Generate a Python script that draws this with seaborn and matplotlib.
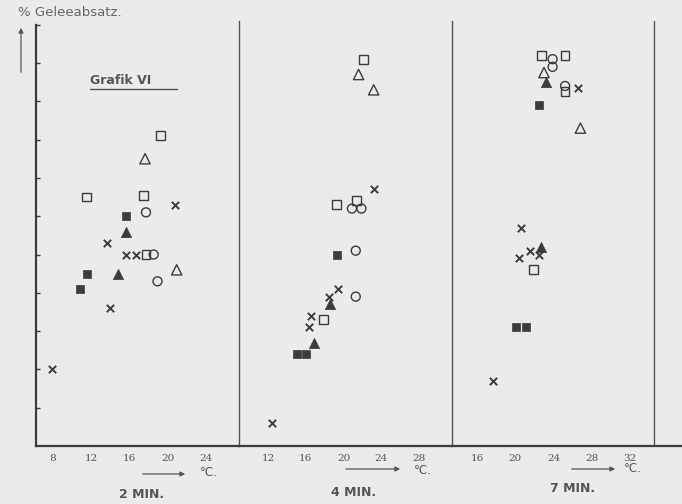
import matplotlib
matplotlib.use("Agg")
import matplotlib.pyplot as plt
import seaborn as sns
import pandas as pd

# ---------------- data ----------------
panel_titles = ["2 MIN.", "4 MIN.", "7 MIN."]
x_ticks = [[8, 12, 16, 20, 24], [12, 16, 20, 24, 28], [16, 20, 24, 28, 32]]
y_ticks = [10, 20, 30, 40, 50, 60, 70, 80, 90, 100, 110]

# panel "2 MIN."
p1_cross_t = [7.9, 13.9, 13.6, 15.6, 16.7, 20.7]
p1_cross_v = [20, 36, 53, 50, 50, 63]
p1_fsq_t = [10.8, 11.6, 15.6]
p1_fsq_v = [41, 45, 60]
p1_ftri_t = [14.8, 15.6]
p1_ftri_v = [45, 56]
p1_osq_t = [17.7, 11.5, 17.4, 19.2]
p1_osq_v = [50, 65, 65.5, 81]
p1_ocir_t = [18.5, 18.9, 17.7]
p1_ocir_v = [50, 43, 61]
p1_otri_t = [20.9, 17.6]
p1_otri_v = [46, 75]

# panel "4 MIN."
p2_cross_t = [23.2, 19.4, 18.5, 16.6, 16.4, 12.4]
p2_cross_v = [67, 41, 39, 34, 31, 6]
p2_fsq_t = [19.3, 15.1, 16.0]
p2_fsq_v = [50, 24, 24]
p2_ftri_t = [18.6, 16.9]
p2_ftri_v = [37, 27]
p2_osq_t = [22.1, 19.3, 21.4, 17.9]
p2_osq_v = [101, 63, 64, 33]
p2_ocir_t = [20.9, 21.9, 21.3, 21.3]
p2_ocir_v = [62, 62, 51, 39]
p2_otri_t = [21.6, 23.2]
p2_otri_v = [97, 93]

# panel "7 MIN."
p3_cross_t = [26.5, 20.6, 21.5, 22.5, 20.4, 17.7]
p3_cross_v = [93.5, 57, 51, 50, 49, 17]
p3_fsq_t = [22.5, 20.1, 21.1]
p3_fsq_v = [89, 31, 31]
p3_ftri_t = [23.2, 22.7]
p3_ftri_v = [95, 52]
p3_osq_t = [22.7, 25.2, 25.2, 21.9]
p3_osq_v = [102, 102, 92.5, 46]
p3_ocir_t = [23.9, 23.9, 25.2]
p3_ocir_v = [101, 99, 94]
p3_otri_t = [23.0, 26.8]
p3_otri_v = [97.5, 83]

rows = []
for pi, grp in enumerate([
    dict(cross=(p1_cross_t, p1_cross_v), fsq=(p1_fsq_t, p1_fsq_v), ftri=(p1_ftri_t, p1_ftri_v),
         osq=(p1_osq_t, p1_osq_v), ocir=(p1_ocir_t, p1_ocir_v), otri=(p1_otri_t, p1_otri_v)),
    dict(cross=(p2_cross_t, p2_cross_v), fsq=(p2_fsq_t, p2_fsq_v), ftri=(p2_ftri_t, p2_ftri_v),
         osq=(p2_osq_t, p2_osq_v), ocir=(p2_ocir_t, p2_ocir_v), otri=(p2_otri_t, p2_otri_v)),
    dict(cross=(p3_cross_t, p3_cross_v), fsq=(p3_fsq_t, p3_fsq_v), ftri=(p3_ftri_t, p3_ftri_v),
         osq=(p3_osq_t, p3_osq_v), ocir=(p3_ocir_t, p3_ocir_v), otri=(p3_otri_t, p3_otri_v)),
]):
    for sym, (ts, vs) in grp.items():
        for t, v in zip(ts, vs):
            rows.append(dict(panel=pi, sym=sym, temp=t, val=v))
df = pd.DataFrame(rows)

# ---------------- style ----------------
sns.set_theme(style="white")
bg = "#ebebe9"
ink = "#3c3c3c"
txt = "#555555"
plt.rcParams["font.family"] = ["DejaVu Sans"]

W, H = 682, 504
fig = plt.figure(figsize=(W / 100, H / 100), dpi=100, facecolor=bg)


def fx(x):
    return x / W


def fy(y):
    return 1 - y / H


y_bottom_px, y_top_px = 446, 21
ylim = (0, (y_bottom_px - y_top_px) / 38.3 * 10)

# panel pixel extents and x-limits
panels_px = [(36, 239), (239, 452), (452, 682)]
xlims = [(6.23, 27.4), (8.93, 31.5), (13.4, 37.4)]

marker_specs = {
    "cross": dict(marker="x", s=28, color=ink, linewidth=1.4),
    "fsq": dict(marker="s", s=34, color=ink, edgecolor=ink, linewidth=0.5),
    "ftri": dict(marker="^", s=55, color=ink, edgecolor=ink, linewidth=0.5),
    "osq": dict(marker="s", s=40, facecolor="none", edgecolor=ink, linewidth=1.0),
    "ocir": dict(marker="o", s=42, facecolor="none", edgecolor=ink, linewidth=1.0),
    "otri": dict(marker="^", s=55, facecolor="none", edgecolor=ink, linewidth=1.0),
}

axes = []
for pi in range(3):
    l, r = panels_px[pi]
    ax = fig.add_axes([fx(l), fy(y_bottom_px), (r - l) / W, (y_bottom_px - y_top_px) / H])
    ax.set_facecolor("none")
    ax.set_xlim(*xlims[pi])
    ax.set_ylim(*ylim)
    sub = df[df.panel == pi]
    for sym, spec in marker_specs.items():
        d = sub[sub.sym == sym]
        if len(d):
            sns.scatterplot(data=d, x="temp", y="val", ax=ax, legend=False, zorder=3, **spec)
    ax.set_xlabel("")
    ax.set_ylabel("")
    ax.set_xticks(x_ticks[pi])
    ax.set_xticklabels([str(t) for t in x_ticks[pi]], family="DejaVu Serif", fontsize=7.5, color=txt)
    ax.tick_params(axis="x", direction="out", length=3, width=1, color=ink, pad=2.5)
    ax.spines["top"].set_visible(False)
    ax.spines["bottom"].set_color(ink)
    ax.spines["bottom"].set_linewidth(1.6)
    if pi == 0:
        ax.spines["left"].set_color(ink)
        ax.spines["left"].set_linewidth(1.6)
        ax.spines["left"].set_bounds(0, 110)
        ax.set_yticks(y_ticks)
        ax.set_yticklabels([])
        ax.tick_params(axis="y", direction="in", length=3, width=1, color=ink, left=True)
    else:
        ax.spines["left"].set_visible(False)
        ax.set_yticks([])
    if pi < 2:
        ax.spines["right"].set_color("#555555")
        ax.spines["right"].set_linewidth(1.0)
    else:
        ax.spines["right"].set_visible(False)
        ax.axvline(34.5, color="#555555", linewidth=1.0)
    ax.grid(False)
    axes.append(ax)

# arrows and unit labels below each panel
arrow_px = [((140, 474), (188, 474), (200, 473)),
            ((343, 469), (403, 469), (414, 470)),
            ((569, 469), (618, 469), (624, 469))]
for (a0, a1, tpos) in arrow_px:
    fig.add_artist(matplotlib.patches.FancyArrowPatch(
        (fx(a0[0]), fy(a0[1])), (fx(a1[0]), fy(a1[1])), transform=fig.transFigure,
        arrowstyle="-|>", mutation_scale=7, color="#555555", linewidth=0.9))
    fig.text(fx(tpos[0]), fy(tpos[1]), "°C.", ha="left", va="center", fontsize=8.5, color=txt)

# panel titles
title_px = [(142, 495), (354, 492), (573, 489)]
for t, (x, y) in zip(panel_titles, title_px):
    fig.text(fx(x), fy(y), t, ha="center", va="center", fontsize=9, fontweight="bold", color=txt)

# y axis label and arrow
fig.text(fx(18), fy(13), "% Geleeabsatz.", ha="left", va="center", fontsize=9.5, color="#666666")
fig.add_artist(matplotlib.patches.FancyArrowPatch(
    (fx(21), fy(75)), (fx(21), fy(25)), transform=fig.transFigure,
    arrowstyle="-|>", mutation_scale=7, color="#555555", linewidth=0.9))

# chart label
fig.text(fx(90), fy(81), "Grafik VI", ha="left", va="center", fontsize=9, fontweight="bold", color=txt)
fig.add_artist(matplotlib.lines.Line2D([fx(90), fx(177)], [fy(89), fy(89)],
                                       transform=fig.transFigure, color=txt, linewidth=1.0))

fig.savefig("out.png", dpi=100, facecolor=bg)
